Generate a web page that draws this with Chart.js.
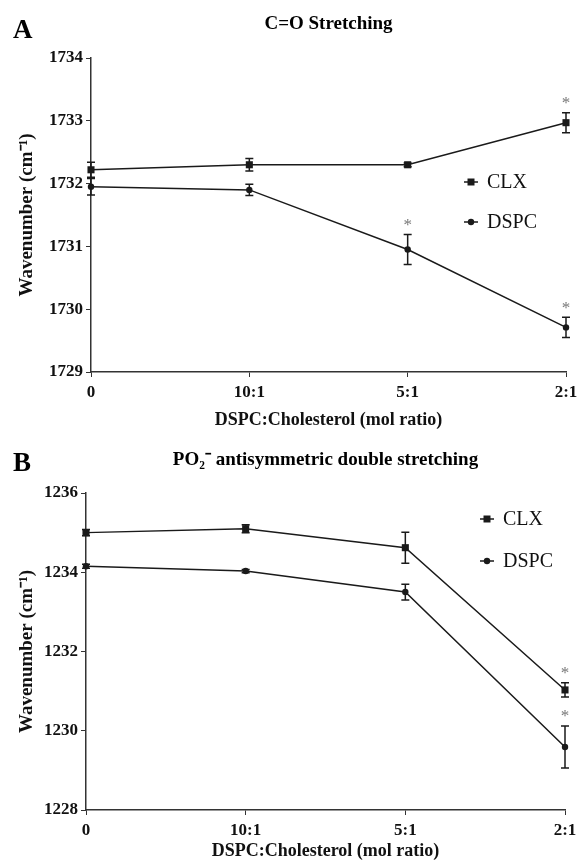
<!DOCTYPE html>
<html>
<head>
<meta charset="utf-8">
<script src="https://cdn.jsdelivr.net/npm/chart.js@4.4.0/dist/chart.umd.min.js"></script>
<style>
body{margin:0;background:#fff;width:577px;height:863px;position:relative;overflow:hidden}
canvas{position:absolute;left:0}
#chartA{top:0}
#chartB{top:440px}
</style>
</head>
<body>
<canvas id="chartA" width="577" height="450"></canvas>
<canvas id="chartB" width="577" height="423"></canvas>
<script>
// categories
var ratios = ['0', '10:1', '5:1', '2:1'];

// panel A: C=O stretching
var coClx = [1732.22, 1732.30, 1732.30, 1732.97];
var coClxErr = [0.12, 0.10, 0.03, 0.16];
var coClxSig = [false, false, false, true];
var coDspc = [1731.95, 1731.90, 1730.95, 1729.71];
var coDspcErr = [0.13, 0.09, 0.24, 0.16];
var coDspcSig = [false, false, true, true];
var coRange = [1729, 1734, 1];

// panel B: PO2- antisymmetric double stretching
var poClx = [1235.00, 1235.10, 1234.62, 1231.03];
var poClxErr = [0.08, 0.10, 0.39, 0.18];
var poClxSig = [false, false, false, true];
var poDspc = [1234.15, 1234.03, 1233.50, 1229.59];
var poDspcErr = [0.05, 0.04, 0.20, 0.53];
var poDspcSig = [false, false, false, true];
var poRange = [1228, 1236, 2];

var serif = "'Liberation Serif', 'Times New Roman', serif";
var ink = '#1a1a1a';

// error bars + asterisks, drawn from the dataset values
var errorBars = {
	id: 'errorBars',
	afterDatasetsDraw: function(chart){
		var ctx = chart.ctx, y = chart.scales.y;
		chart.data.datasets.forEach(function(ds, i){
			var meta = chart.getDatasetMeta(i);
			meta.data.forEach(function(pt, j){
				var v = ds.data[j], e = ds.errors[j];
				var top = y.getPixelForValue(v + e), bot = y.getPixelForValue(v - e);
				ctx.save();
				ctx.strokeStyle = ink;
				ctx.lineWidth = 1.5;
				ctx.beginPath();
				ctx.moveTo(pt.x, top); ctx.lineTo(pt.x, bot);
				ctx.moveTo(pt.x - 4, top); ctx.lineTo(pt.x + 4, top);
				ctx.moveTo(pt.x - 4, bot); ctx.lineTo(pt.x + 4, bot);
				ctx.stroke();
				if (ds.sig[j]) {
					ctx.fillStyle = '#777';
					ctx.font = '17px ' + serif;
					ctx.textAlign = 'center';
					ctx.textBaseline = 'middle';
					ctx.fillText('*', pt.x, top - 9);
				}
				ctx.restore();
			});
		});
	}
};

// panel letter and the in-plot legend
var panelDecor = {
	id: 'panelDecor',
	afterDraw: function(chart, args, o){
		var ctx = chart.ctx;
		ctx.save();
		ctx.fillStyle = '#000';
		ctx.font = 'bold 27px ' + serif;
		ctx.textAlign = 'left';
		ctx.textBaseline = 'middle';
		ctx.fillText(o.letter, o.letterX, o.letterY);
		chart.data.datasets.forEach(function(ds, i){
			var ly = o.legendY[i], lx = o.legendX;
			ctx.strokeStyle = ink;
			ctx.lineWidth = 1.5;
			ctx.beginPath();
			ctx.moveTo(lx - 7, ly); ctx.lineTo(lx + 7, ly);
			ctx.stroke();
			ctx.fillStyle = ink;
			ctx.beginPath();
			if (ds.pointStyle === 'rect') ctx.rect(lx - 3.5, ly - 3.5, 7, 7);
			else ctx.arc(lx, ly, 3.2, 0, Math.PI * 2);
			ctx.fill();
			ctx.fillStyle = '#111';
			ctx.font = '20px ' + serif;
			ctx.fillText(ds.label, lx + 16, ly + 1);
		});
		ctx.restore();
	}
};

function makePanel(id, cfg){
	var ctx = document.getElementById(id).getContext('2d');
	return new Chart(ctx, {
		type: 'line',
		data: {
			labels: ratios,
			datasets: [{
				label: 'CLX',
				data: cfg.clx,
				errors: cfg.clxErr,
				sig: cfg.clxSig,
				pointStyle: 'rect',
				pointRadius: 5,
				borderColor: ink,
				backgroundColor: ink,
				borderWidth: 1.5,
				pointBorderWidth: 0,
				tension: 0,
				clip: false
			}, {
				label: 'DSPC',
				data: cfg.dspc,
				errors: cfg.dspcErr,
				sig: cfg.dspcSig,
				pointStyle: 'circle',
				pointRadius: 3.2,
				borderColor: ink,
				backgroundColor: ink,
				borderWidth: 1.5,
				pointBorderWidth: 0,
				tension: 0,
				clip: false
			}]
		},
		options: {
			responsive: false,
			animation: false,
			layout: {padding: {left: 0, right: cfg.padRight, top: 0, bottom: 0}},
			plugins: {
				legend: {display: false},
				tooltip: {enabled: false},
				title: {
					display: true,
					text: cfg.title,
					fullSize: false,
					color: '#000',
					font: {family: serif, size: 19, weight: 'bold', lineHeight: 1.2},
					padding: {top: cfg.titleTop, bottom: cfg.titleBottom}
				},
				panelDecor: cfg.decor
			},
			scales: {
				x: {
					type: 'category',
					offset: false,
					afterFit: function(s){ s.height = cfg.xHeight; s.paddingLeft = 0; s.paddingRight = 0; },
					grid: {display: true, drawOnChartArea: false, drawTicks: true, tickLength: 5, color: '#333', offset: false},
					border: {display: true, color: '#333', width: 1.5},
					ticks: {color: '#111', padding: 5, font: {family: serif, size: 17, weight: 'bold'}, maxRotation: 0},
					title: {display: true, text: 'DSPC:Cholesterol (mol ratio)', color: '#111', padding: {top: 0, bottom: cfg.xTitlePad}, font: {family: serif, size: 18, weight: 'bold', lineHeight: 1.2}}
				},
				y: {
					min: cfg.range[0],
					max: cfg.range[1],
					afterFit: function(s){ s.width = cfg.yWidth; s.paddingTop = 0; s.paddingBottom = 0; },
					grid: {display: true, drawOnChartArea: false, drawTicks: true, tickLength: 5, color: '#333'},
					border: {display: true, color: '#333', width: 1.5},
					ticks: {stepSize: cfg.range[2], color: '#111', padding: 3, font: {family: serif, size: 17, weight: 'bold'},
						callback: function(v){ return String(v); }},
					title: {display: true, text: 'Wavenumber (cm\u207B\u00B9)', color: '#111', padding: {top: 16, bottom: 0}, font: {family: serif, size: 19, weight: 'bold', lineHeight: 1.2}}
				}
			}
		},
		plugins: [errorBars, panelDecor]
	});
}

makePanel('chartA', {
	clx: coClx, clxErr: coClxErr, clxSig: coClxSig,
	dspc: coDspc, dspcErr: coDspcErr, dspcSig: coDspcSig,
	range: coRange,
	title: 'C=O Stretching',
	titleTop: 12.6, titleBottom: 22.6,
	xHeight: 78, yWidth: 91, padRight: 11, xTitlePad: 19,
	decor: {letter: 'A', letterX: 13, letterY: 31, legendX: 471, legendY: [182, 222]}
});

makePanel('chartB', {
	clx: poClx, clxErr: poClxErr, clxSig: poClxSig,
	dspc: poDspc, dspcErr: poDspcErr, dspcSig: poDspcSig,
	range: poRange,
	title: 'PO\u2082\u207B antisymmetric double stretching',
	titleTop: 8.6, titleBottom: 21.6,
	xHeight: 53, yWidth: 86, padRight: 12, xTitlePad: 1,
	decor: {letter: 'B', letterX: 13, letterY: 24, legendX: 487, legendY: [79, 121]}
});
</script>
</body>
</html>
